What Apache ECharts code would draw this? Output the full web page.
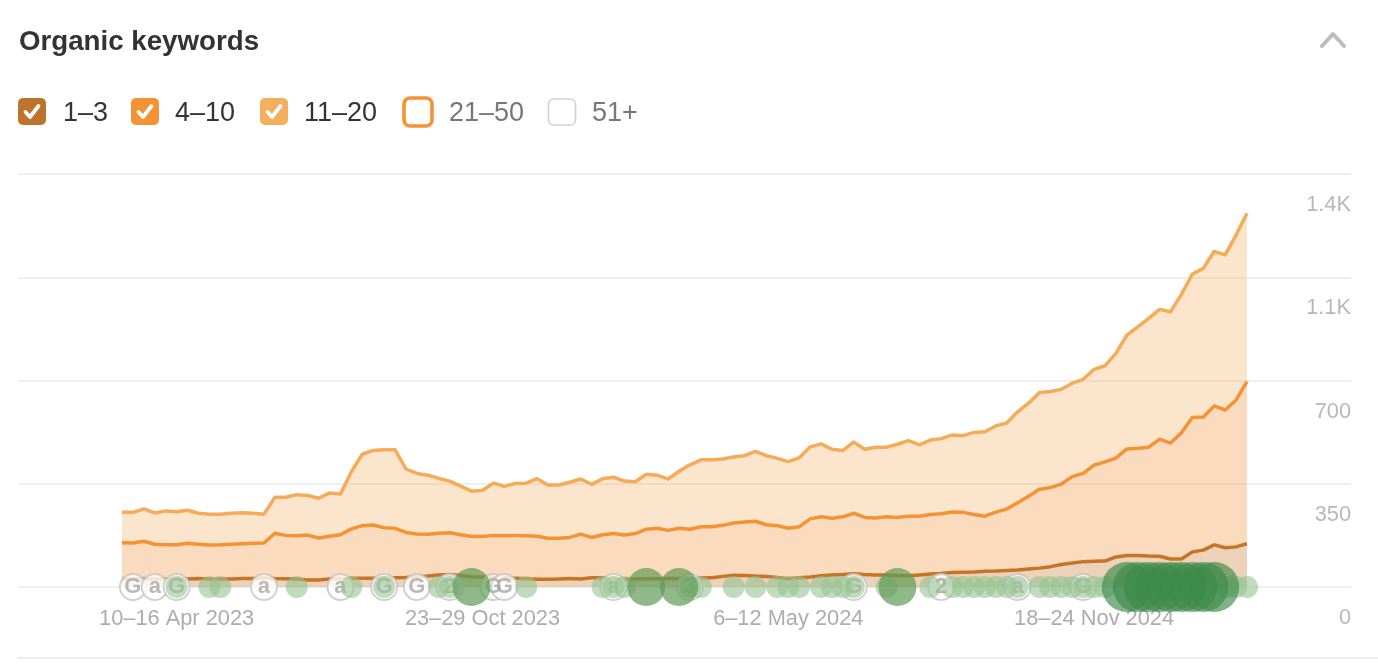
<!DOCTYPE html>
<html>
<head>
<meta charset="utf-8">
<style>html,body{margin:0;padding:0;background:#fff}#c{width:1378px;height:666px}</style>
<script src="https://cdn.jsdelivr.net/npm/echarts@6/dist/echarts.min.js"></script>
</head>
<body>
<div id="c"></div>
<script>
// Cumulative keyword counts per week.
const upTo20 = [253,253,265,251,258,255,260,250,247,247,250,252,250,247,304,304,313,310,301,319,315,391,450,463,465,465,400,385,379,368,359,342,325,327,352,341,351,352,367,346,346,355,366,348,367,372,359,357,382,379,366,392,414,431,431,434,441,445,460,445,436,425,438,475,485,467,463,491,467,474,474,484,496,482,498,503,515,513,524,526,546,556,594,623,659,663,670,691,704,738,750,792,854,882,911,941,933,992,1061,1080,1138,1126,1193,1267];
const upTo10 = [150,149,155,145,143,143,148,145,142,143,145,147,148,149,182,175,174,176,166,172,177,197,208,210,201,199,185,180,179,182,184,177,172,171,175,174,175,174,172,165,165,168,179,168,177,181,176,181,196,199,192,199,196,204,204,209,217,220,223,211,208,199,204,231,238,233,238,250,236,234,238,236,240,240,246,248,254,253,246,240,254,264,286,308,331,337,349,374,385,413,424,437,468,470,474,501,488,523,575,576,614,600,634,696];
const upTo3 = [27,27,28,27,27,27,27,29,27,27,27,29,29,31,29,28,27,24,24,27,29,30,30,30,30,31,32,36,37,41,42,39,35,34,31,31,30,28,26,26,27,29,27,31,31,27,26,27,28,28,29,29,30,31,31,36,40,39,37,36,32,28,31,34,38,41,42,45,42,41,41,39,38,41,44,46,49,50,51,53,54,56,58,61,64,69,76,81,86,87,88,102,107,107,105,104,95,95,119,125,143,133,136,147];

const firstWeekStart = '2023-03-06';
const tickEvery = 28, firstTick = 5;
const yTickValues = [0,350,700,1050,1400];
const yTickLabels = ['0','350','700','1.1K','1.4K'];

// Annotation badges: week index and letter.
const badgeWeeks =   [1,3,5,13,20,24,27,30,34,35,45,52,67,75,82,88,93];
const badgeLetters = ['G','a','G','a','a','G','G','2','G','G','a','3','G','2','a','G','G'];
// Update bubbles: week indexes by size class.
const smallWeeks = [5,8,9,16,21,24,29,30,37,44,45,46,52,53,56,58,60,61,62,64,65,66,67,70,74,76,77,78,79,80,81,82,84,85,86,87,88,89,90,101,102,103];
const mediumWeeks = [32,48,51,71];
const largeWeeks = [92,93,94,95,96,97,98,99,100];

const legendItems = [
  {label:'1–3', on:true, color:'#bd7329'},
  {label:'4–10', on:true, color:'#f39333'},
  {label:'11–20', on:true, color:'#f5ae5c'},
  {label:'21–50', on:false, color:'#f39333'},
  {label:'51+', on:false, color:'#d2d2d2'}
];
const legendX = [18,131,260,404,548];
const legendTextX = [63,175,304,449,592];

const MONTHS = ['Jan','Feb','Mar','Apr','May','Jun','Jul','Aug','Sep','Oct','Nov','Dec'];
const categories = upTo20.map((_, i) => {
  const a = new Date(Date.parse(firstWeekStart) + i * 7 * 864e5);
  const b = new Date(a.getTime() + 6 * 864e5);
  const sameMonth = a.getUTCMonth() === b.getUTCMonth();
  return a.getUTCDate() + (sameMonth ? '' : ' ' + MONTHS[a.getUTCMonth()]) + '–' + b.getUTCDate() + ' ' + MONTHS[b.getUTCMonth()] + ' ' + b.getUTCFullYear();
});

const FONT = '"Liberation Sans", Arial, sans-serif';

function lineSeries(name, data, color, area, z) {
  return {
    name, type:'line', data, xAxisIndex:0, yAxisIndex:0, z,
    symbol:'none', smooth:false,
    lineStyle:{color, width:3.5, join:'round'},
    itemStyle:{color},
    areaStyle:{color:area, opacity:1},
    clip:false
  };
}
function bubbleSeries(name, weeks, size, color, z) {
  return {
    name, type:'scatter', xAxisIndex:0, yAxisIndex:0, z, clip:false,
    data: weeks.map(w => [w, 0]),
    symbol:'circle', symbolSize:size,
    itemStyle:{color, opacity:1}
  };
}

const graphic = [];
legendItems.forEach((it, i) => {
  const x = legendX[i];
  if (it.on) {
    graphic.push({type:'rect', x:x, y:98, shape:{width:28, height:27, r:5}, style:{fill:it.color}});
    graphic.push({type:'polyline', x:x, y:98, shape:{points:[[7.5,14],[12,19],[20.5,8]]},
      style:{stroke:'#fff', lineWidth:3.8, fill:null, lineCap:'round', lineJoin:'round'}});
  } else if (i === 3) {
    graphic.push({type:'rect', x:x, y:98, shape:{width:28, height:28, r:6}, style:{fill:'#fff', stroke:it.color, lineWidth:3.6}});
  } else {
    graphic.push({type:'rect', x:x+0.5, y:99, shape:{width:27, height:26, r:5}, style:{fill:'#fff', stroke:it.color, lineWidth:1.6}});
  }
  graphic.push({type:'text', x:legendTextX[i], y:114, style:{text:it.label, font:'27px '+FONT, fill:it.on?'#333':'#777', textVerticalAlign:'middle'}});
});
graphic.push({type:'polyline', shape:{points:[[1322,46],[1333,34],[1344,46]]}, style:{stroke:'#bcbcbc', lineWidth:4, fill:null, lineCap:'round', lineJoin:'round'}});
graphic.push({type:'line', shape:{x1:18,y1:658,x2:1378,y2:658}, style:{stroke:'#ececec', lineWidth:2}});

const option = {
  animation:false,
  backgroundColor:'#fff',
  textStyle:{fontFamily:FONT},
  title:{text:'Organic keywords', left:19, top:26, padding:0, textStyle:{fontFamily:FONT, fontSize:27.7, fontWeight:'bold', color:'#333', lineHeight:32}},
  grid:[
    {left:122, top:174, width:1125, height:413},
    {left:18, top:174, width:1333, height:413}
  ],
  xAxis:[
    {type:'category', gridIndex:0, data:categories, boundaryGap:false,
     axisLine:{show:false}, axisTick:{show:false}, splitLine:{show:false},
     axisLabel:{color:'#adadad', fontSize:21.8, fontFamily:FONT, margin:21, hideOverlap:false,
       interval:(i)=> i>=firstTick && (i-firstTick)%tickEvery===0}},
    {type:'value', gridIndex:1, min:0, max:1, show:false}
  ],
  yAxis:[
    {type:'value', gridIndex:0, min:0, max:1400, interval:350, show:false},
    {type:'value', gridIndex:1, min:0, max:1400, interval:350, position:'right',
     axisLine:{show:false}, axisTick:{show:false},
     splitLine:{show:true, lineStyle:{color:'#efefef', width:2}},
     axisLabel:{inside:true, margin:0, color:'#b8b8b8', fontSize:21.8, fontFamily:FONT, verticalAlign:'top', padding:[20,0,0,0],
       formatter:(v)=>yTickLabels[yTickValues.indexOf(v)]}}
  ],
  graphic,
  series:[
    lineSeries('11–20', upTo20, '#f5ab58', 'rgba(245,170,90,0.30)', 2),
    lineSeries('4–10', upTo10, '#f39333', 'rgba(240,140,50,0.10)', 3),
    lineSeries('1–3', upTo3, '#c67426', 'rgba(160,170,170,0.16)', 4),
    {name:'Annotations', type:'scatter', xAxisIndex:0, yAxisIndex:0, z:5, clip:false,
     data: badgeWeeks.map((w,i)=>({value:[w,0], label:{formatter:badgeLetters[i]}})),
     symbol:'circle', symbolSize:26,
     itemStyle:{color:'#fff', borderColor:'#c6c6c6', borderWidth:2},
     label:{show:true, position:'inside', color:'#a8a8a8', fontSize:22, fontWeight:'bold', fontFamily:FONT}},
    bubbleSeries('Small', smallWeeks, 22, 'rgba(150,195,145,0.60)', 6),
    bubbleSeries('Medium', mediumWeeks, 38, 'rgba(95,155,85,0.70)', 6),
    bubbleSeries('Large', largeWeeks, 50, 'rgba(60,138,75,0.66)', 6)
  ]
};
echarts.init(document.getElementById('c'), null, {renderer:'canvas'}).setOption(option);
</script>
</body>
</html>
